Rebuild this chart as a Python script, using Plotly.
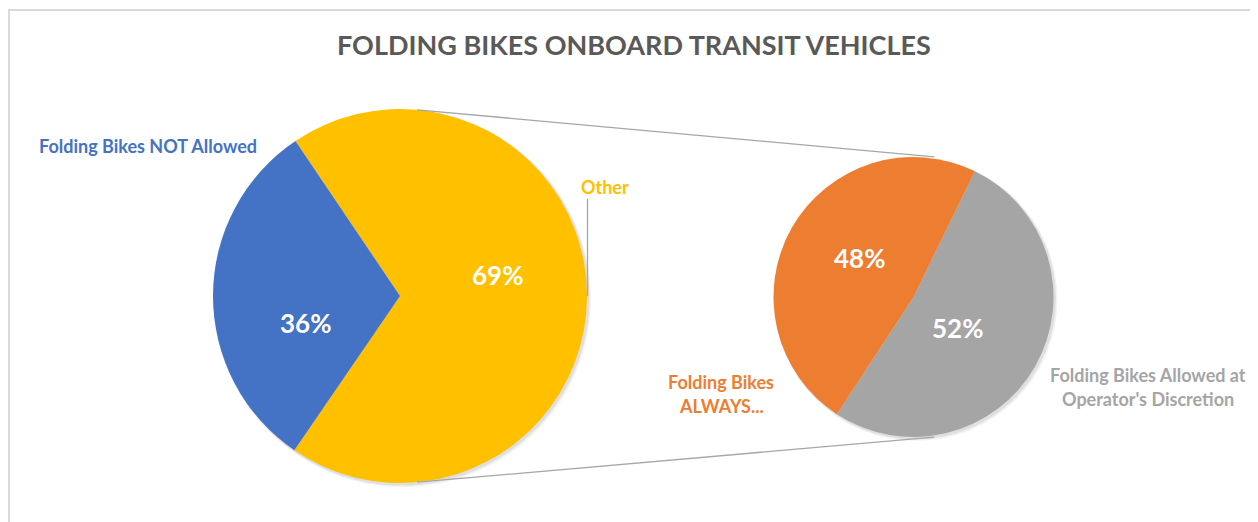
import math
import plotly.graph_objects as go

# ---------------- data ----------------
chart_title = "FOLDING BIKES ONBOARD TRANSIT VEHICLES"

main_labels = ["Other", "Folding Bikes NOT Allowed"]
main_values = [69, 31]            # slice sizes as drawn
main_text = ["69%", "36%"]         # data labels as printed
main_colors = ["#FFC000", "#4472C4"]

sub_labels = ["Folding Bikes Allowed at Operator's Discretion", "Folding Bikes ALWAYS..."]
sub_values = [52, 48]
sub_text = ["52%", "48%"]
sub_colors = ["#A5A5A5", "#ED7D31"]

# ---------------- layout geometry (page pixels) ----------------
W, H = 1258, 522
OFF = 8  # page body margin
L_CX, L_CY, L_R = 400, 296, 187
R_CX, R_CY, R_R = 913.5, 297, 140
FONT = "Lato, 'Open Sans', sans-serif"


def px(x):
    return (x - OFF) / W


def py(y):
    return 1 - (y - OFF) / H


def dom(cx, cy, r):
    return dict(x=[px(cx - r), px(cx + r)], y=[py(cy + r), py(cy - r)])


fig = go.Figure()

fig.add_trace(go.Pie(
    labels=main_labels, values=main_values, sort=False, direction="clockwise",
    rotation=-34, marker=dict(colors=main_colors, line=dict(width=0)),
    textinfo="none", hoverinfo="label+percent", domain=dom(L_CX, L_CY, L_R),
    showlegend=False,
))
fig.add_trace(go.Pie(
    labels=sub_labels, values=sub_values, sort=False, direction="clockwise",
    rotation=26, marker=dict(colors=sub_colors, line=dict(width=0)),
    textinfo="none", hoverinfo="label+percent", domain=dom(R_CX, R_CY, R_R),
    showlegend=False,
))

shapes = []
# chart frame
shapes.append(dict(type="rect", xref="paper", yref="paper",
                   x0=px(9), x1=px(1256), y0=py(560), y1=py(10),
                   line=dict(color="#D9D9D9", width=2), fillcolor="rgba(0,0,0,0)", layer="below"))
# soft shadows under the pies
for cx, cy, r in [(L_CX, L_CY, L_R), (R_CX, R_CY, R_R)]:
    for k, a in [(4, 0.05), (2.5, 0.08)]:
        shapes.append(dict(type="circle", xref="paper", yref="paper",
                           x0=px(cx - r + 1), x1=px(cx + r + k),
                           y0=py(cy + r + k), y1=py(cy - r + 1),
                           line=dict(width=0), fillcolor=f"rgba(0,0,0,{a})", layer="below"))

# connector lines: external tangents of the two circles
d = R_CX - L_CX
phi = math.asin((L_R - R_R) / d)
for sgn in (-1, 1):
    x0 = L_CX + L_R * math.sin(phi)
    y0 = L_CY + sgn * L_R * math.cos(phi)
    x1 = R_CX + R_R * math.sin(phi) + 8
    y1 = R_CY + sgn * R_R * math.cos(phi) + sgn * 8 * math.tan(phi)
    shapes.append(dict(type="line", xref="paper", yref="paper",
                       x0=px(x0), y0=py(y0), x1=px(x1), y1=py(y1),
                       line=dict(color="#A6A6A6", width=1.3)))
# leader line for "Other"
shapes.append(dict(type="line", xref="paper", yref="paper",
                   x0=px(587.5), x1=px(587.5), y0=py(199), y1=py(L_CY),
                   line=dict(color="#A6A6A6", width=1.3)))

annotations = []


def ann(text, x, y, color, size, bold=True):
    annotations.append(dict(
        text=f"<b>{text}</b>" if bold else text, x=px(x), y=py(y),
        xref="paper", yref="paper", showarrow=False,
        xanchor="center", yanchor="middle",
        font=dict(family=FONT, size=size, color=color)))


ann(chart_title, 634, 44, "#595959", 27)

# percentage data labels
ann(main_text[0], 497, 275, "white", 26)
ann(main_text[1], 305, 323, "white", 26)
ann(sub_text[1], 859, 258, "white", 26)
ann(sub_text[0], 957, 328, "white", 26)

# category labels
ann("Folding Bikes NOT Allowed", 148, 146, main_colors[1], 18)
ann("Other", 605, 187, main_colors[0], 18)
ann("Folding Bikes", 721, 382, sub_colors[1], 18)
ann("ALWAYS...", 721, 406, sub_colors[1], 18)
ann("Folding Bikes Allowed at", 1148, 375, sub_colors[0], 18)
ann("Operator's Discretion", 1148, 399, sub_colors[0], 18)

fig.update_layout(
    width=W, height=H, margin=dict(l=0, r=0, t=0, b=0),
    paper_bgcolor="white", plot_bgcolor="white",
    shapes=shapes, annotations=annotations,
    font=dict(family=FONT),
)

fig.write_html("out.html")
